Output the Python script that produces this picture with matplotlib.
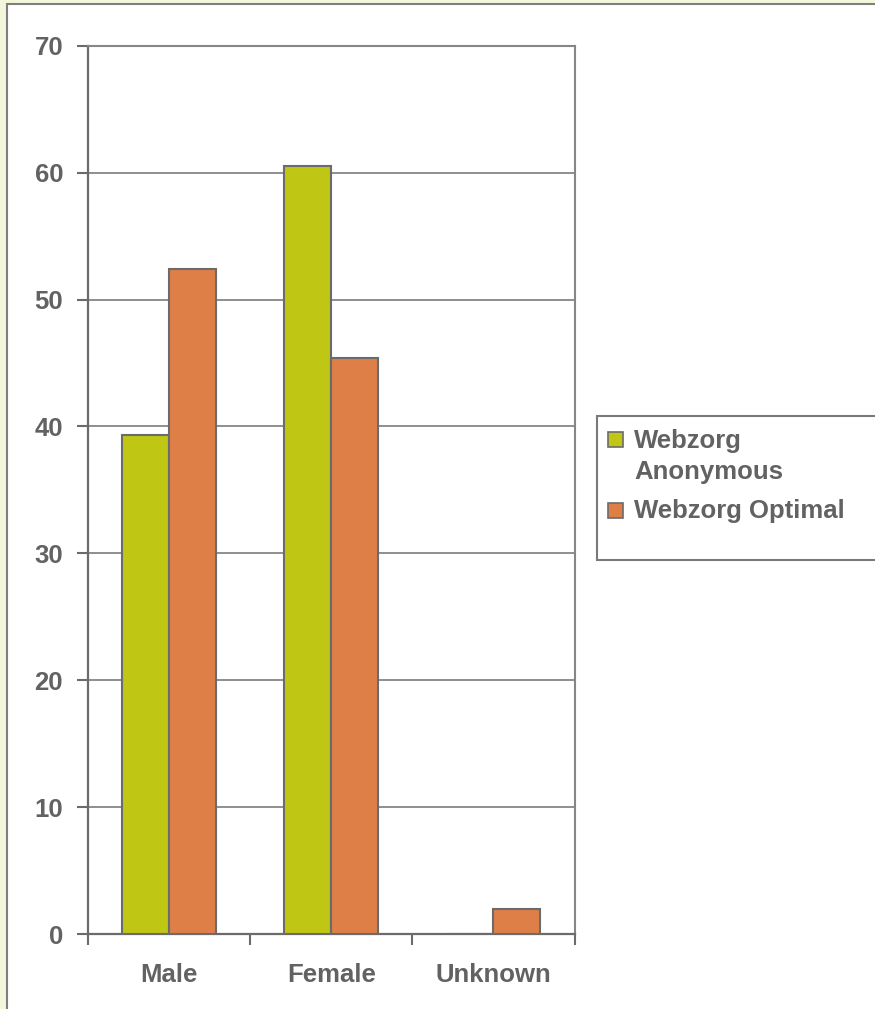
import matplotlib
matplotlib.use("Agg")
import matplotlib.pyplot as plt
from matplotlib.patches import Rectangle
import numpy as np

# ---- data ----
categories = ["Male", "Female", "Unknown"]
series_names = ["Webzorg\nAnonymous", "Webzorg Optimal"]
anonymous = [39.3, 60.5, 0.0]
optimal = [52.4, 45.4, 1.95]
y_ticks = [0, 10, 20, 30, 40, 50, 60, 70]

colors = ["#BFC614", "#DE7F47"]
edge = "#6B6B6B"
text_col = "#626262"
grid_col = "#868686"

W, H = 875, 1009
DPI = 100
plt.rcParams['font.family'] = ['Liberation Sans', 'DejaVu Sans']
FS = 18.5

fig = plt.figure(figsize=(W / DPI, H / DPI), dpi=DPI)
fig.patch.set_facecolor("#F5F7DC")


def fx(x):
    return x / W


def fy(y):
    return 1 - y / H


# white chart area with gray border
fig.add_artist(Rectangle((fx(7), fy(1030)), fx(900) - fx(7), fy(4) - fy(1030),
                         transform=fig.transFigure, facecolor="white",
                         edgecolor="#7F7F7F", linewidth=1.5, zorder=0))

left, right, top, bottom = 88, 574.5, 45.7, 934
ax = fig.add_axes([fx(left), fy(bottom), fx(right) - fx(left), fy(top) - fy(bottom)])
ax.set_facecolor("white")

x = np.arange(len(categories))
bw = 0.29
ax.bar(x - bw / 2, anonymous, width=bw, color=colors[0], edgecolor=edge, linewidth=1.5, zorder=3)
ax.bar(x + bw / 2, optimal, width=bw, color=colors[1], edgecolor=edge, linewidth=1.5, zorder=3)

ax.set_ylim(0, 70)
ax.set_xlim(-0.5, len(categories) - 0.5)
ax.set_yticks(y_ticks)
ax.set_yticklabels([str(v) for v in y_ticks])
ax.yaxis.grid(True, color=grid_col, linewidth=1.3, zorder=0)
ax.set_axisbelow(True)

ax.set_xticks(np.arange(len(categories) + 1) - 0.5)
ax.set_xticklabels([])
ax.set_xticks(x, minor=True)
ax.set_xticklabels(categories, minor=True)
ax.tick_params(axis="x", which="minor", length=0, pad=21)
ax.tick_params(axis="x", which="major", length=8, width=1.5, color=edge, direction="out")
ax.tick_params(axis="y", length=8, width=1.5, color=edge, direction="out", pad=10)

for lab in ax.get_xticklabels(minor=True) + ax.get_yticklabels():
    lab.set_fontsize(FS)
    lab.set_fontweight("bold")
    lab.set_color(text_col)

ax.spines["left"].set_color(edge)
ax.spines["left"].set_linewidth(1.6)
ax.spines["bottom"].set_color(edge)
ax.spines["bottom"].set_linewidth(1.6)
ax.spines["top"].set_color(grid_col)
ax.spines["top"].set_linewidth(1.5)
ax.spines["right"].set_color(grid_col)
ax.spines["right"].set_linewidth(1.5)

# ---- legend ----
fig.add_artist(Rectangle((fx(597), fy(559.5)), fx(900) - fx(597), fy(415.7) - fy(559.5),
                         transform=fig.transFigure, facecolor="white",
                         edgecolor="#7A7A7A", linewidth=1.5, zorder=5))
marker_tops = [432, 503]
baselines = [[448, 479], [518]]
for i, name in enumerate(series_names):
    fig.add_artist(Rectangle((fx(608), fy(marker_tops[i] + 15)), fx(623) - fx(608),
                             fy(marker_tops[i]) - fy(marker_tops[i] + 15),
                             transform=fig.transFigure, facecolor=colors[i],
                             edgecolor=edge, linewidth=1.2, zorder=6))
    for line, b in zip(name.split("\n"), baselines[i]):
        fig.text(fx(634), fy(b), line, fontsize=FS, fontweight="bold", color=text_col,
                 ha="left", va="baseline", zorder=7)

fig.savefig("out.png", dpi=DPI, facecolor=fig.get_facecolor())
